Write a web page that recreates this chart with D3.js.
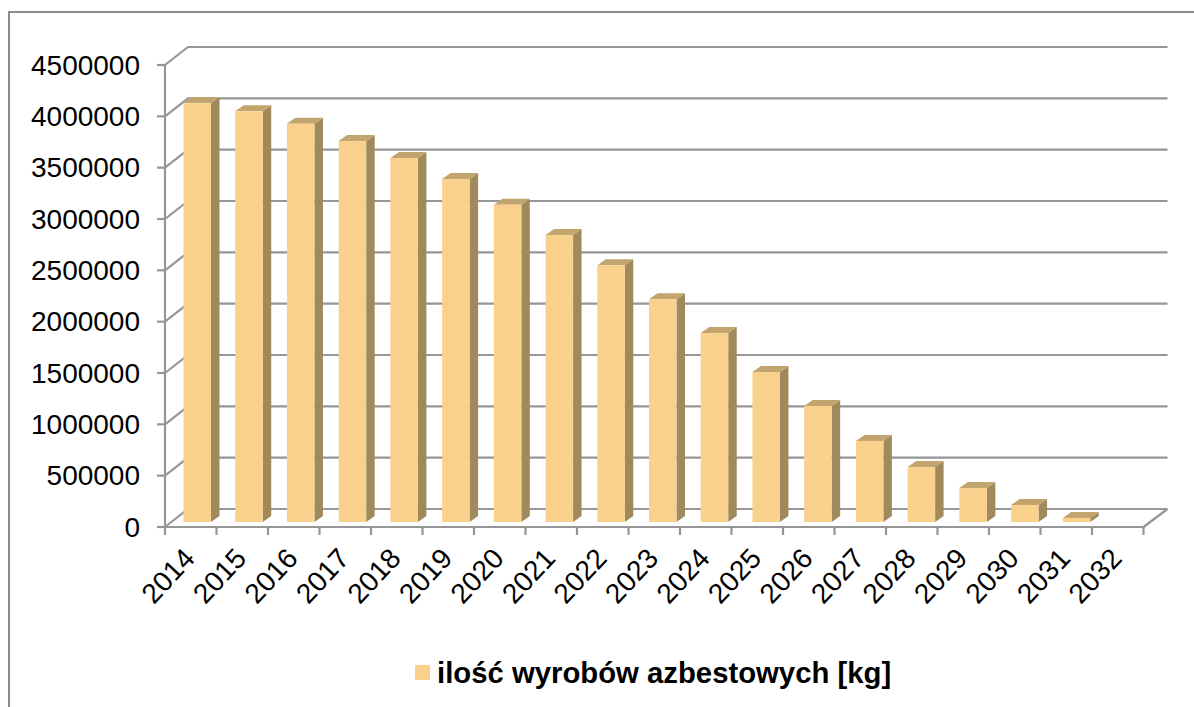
<!DOCTYPE html>
<html><head><meta charset="utf-8">
<script src="https://cdnjs.cloudflare.com/ajax/libs/d3/7.8.5/d3.min.js"></script>
<style>html,body{margin:0;padding:0;background:#fff}svg{display:block}text{font-family:"Liberation Sans",Arial,sans-serif;fill:#000}</style>
</head><body><svg id="c" width="1194" height="707"></svg>
<script>
const categories=["2014","2015","2016","2017","2018","2019","2020","2021","2022","2023","2024","2025","2026","2027","2028","2029","2030","2031","2032"];
const values=[4080000,4000000,3880000,3710000,3545000,3340000,3090000,2795000,2500000,2170000,1840000,1460000,1130000,790000,535000,330000,165000,40000,0];
const yTicks=[0,500000,1000000,1500000,2000000,2500000,3000000,3500000,4000000,4500000];
const seriesName="ilość wyrobów azbestowych [kg]";
const svg=d3.select("#c");
const L=165,R=1143.5,B=527,T=65,dx=23,dy=-18;
const x=d3.scaleBand().domain(categories).range([L,R]);
const xBar=d3.scalePoint().domain(categories).range([183.5,1114.5]);
const y=d3.scaleLinear().domain([0,4500000]).range([B,T]);
const grid="#969696";
svg.append("path").attr("d","M9,707V12H1194").attr("fill","none").attr("stroke","#8c8c8c").attr("stroke-width",2);
const g=svg.append("g").attr("fill","none").attr("stroke",grid).attr("stroke-width",2.2);
yTicks.forEach(t=>{const p=y(t);
 g.append("path").attr("d",`M${L},${p}L${L+dx},${p+dy}H${R+dx+1}`);
 g.append("line").attr("x1",L-8).attr("x2",L).attr("y1",p).attr("y2",p);
});
g.append("path").attr("d",`M${R+dx+1},${B+dy}L${R},${B}`);
g.append("line").attr("x1",L).attr("x2",L).attr("y1",T).attr("y2",B);
g.append("line").attr("x1",L-8).attr("x2",R).attr("y1",B).attr("y2",B);
[...categories.map(c=>x(c)),R].forEach(v=>g.append("line").attr("x1",v).attr("x2",v).attr("y1",B).attr("y2",B+8));
const base=B-5,w=27.5,sx=8.5,sy=-6;
const h=v=>B-y(v);
const bars=svg.append("g").selectAll("g").data(categories.map((c,i)=>({c,v:values[i]})).filter(d=>d.v>0)).join("g");
bars.append("path").attr("fill","#a08a5c").attr("d",d=>{const l=xBar(d.c)+w,t=base-h(d.v);return `M${l},${t}l${sx},${sy}V${base+sy}l${-sx},${-sy}Z`});
bars.append("path").attr("fill","#c2a56e").attr("d",d=>{const l=xBar(d.c),t=base-h(d.v);return `M${l},${t}l${sx},${sy}h${w}l${-sx},${-sy}Z`});
bars.append("rect").attr("fill","#f9d18c").attr("x",d=>xBar(d.c)).attr("width",w).attr("y",d=>base-h(d.v)).attr("height",d=>h(d.v));
yTicks.forEach(t=>svg.append("text").attr("x",140).attr("y",y(t)+9.5).attr("text-anchor","end").attr("font-size",28).text(t));
categories.forEach(c=>svg.append("text").attr("text-anchor","end").attr("font-size",28)
 .attr("transform",`translate(${x(c)+x.bandwidth()/2-9},${B+19}) rotate(-47)`).attr("dy","0.71em").text(c));
svg.append("rect").attr("x",415).attr("y",665).attr("width",15).attr("height",15).attr("fill","#f9d18c");
svg.append("text").attr("x",437).attr("y",683).attr("font-size",29.3).attr("font-weight","bold").text(seriesName);
</script></body></html>
